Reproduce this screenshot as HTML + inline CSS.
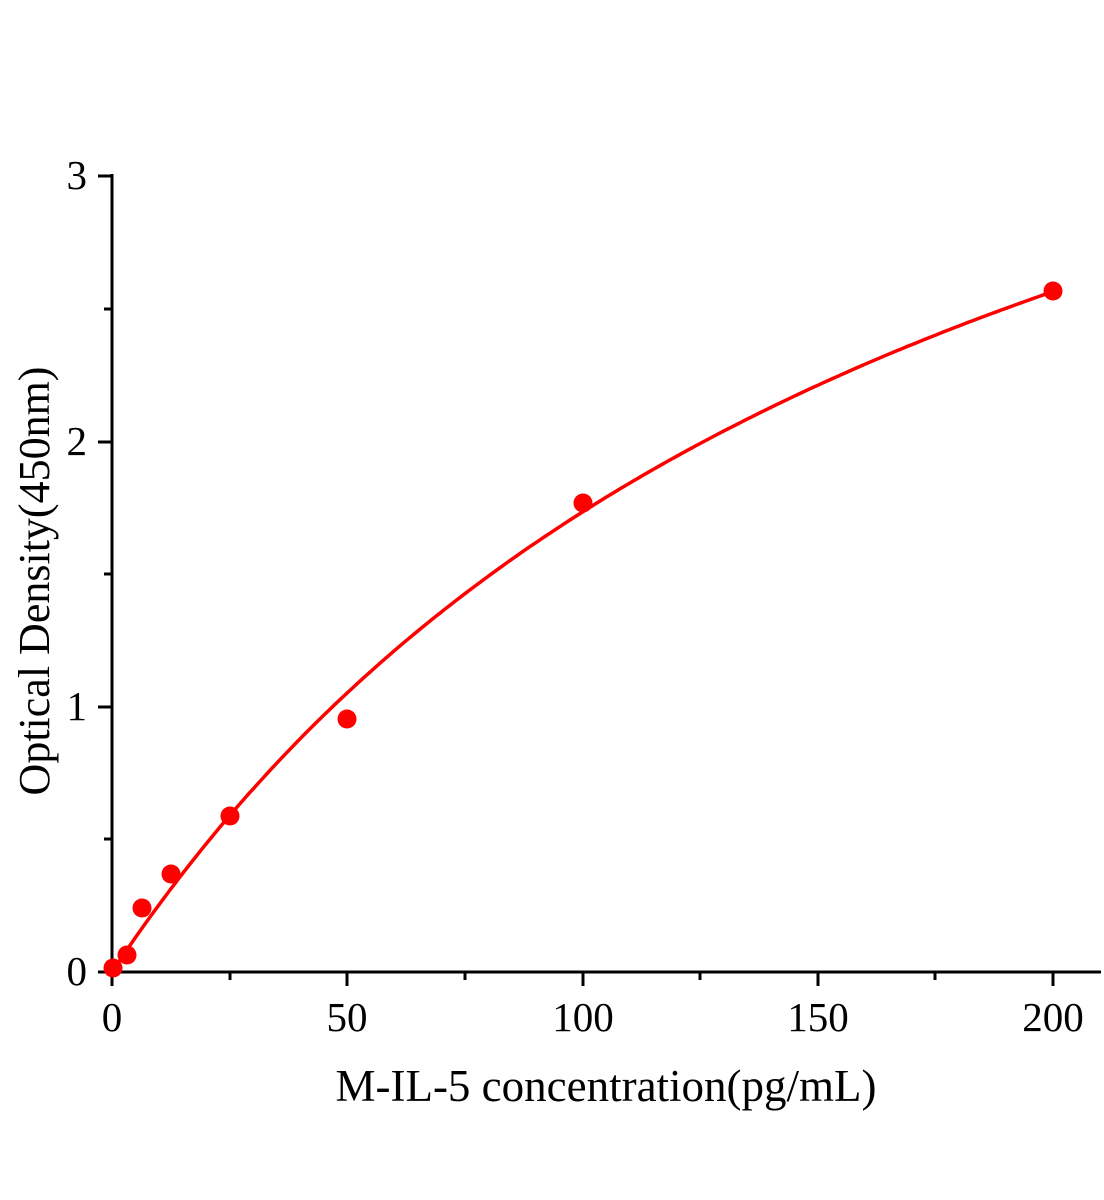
<!DOCTYPE html>
<html><head><style>body{margin:0;background:#fff}svg{display:block}</style></head>
<body>
<svg id="s" width="1104" height="1200" xmlns="http://www.w3.org/2000/svg" font-family="Liberation Serif, serif">
<rect width="1104" height="1200" fill="#fff"/>
<g stroke="#000" stroke-width="3" fill="none">
<line x1="112" y1="174" x2="112" y2="973"/>
<line x1="111" y1="972" x2="1101" y2="972"/>
<line x1="98" y1="972" x2="112" y2="972"/>
<line x1="98" y1="707" x2="112" y2="707"/>
<line x1="98" y1="442" x2="112" y2="442"/>
<line x1="98" y1="176" x2="112" y2="176"/>
<line x1="104" y1="839" x2="112" y2="839"/>
<line x1="104" y1="574" x2="112" y2="574"/>
<line x1="104" y1="309" x2="112" y2="309"/>
<line x1="112" y1="972" x2="112" y2="986"/>
<line x1="347" y1="972" x2="347" y2="986"/>
<line x1="583" y1="972" x2="583" y2="986"/>
<line x1="818" y1="972" x2="818" y2="986"/>
<line x1="1053" y1="972" x2="1053" y2="986"/>
<line x1="230" y1="972" x2="230" y2="980"/>
<line x1="465" y1="972" x2="465" y2="980"/>
<line x1="700" y1="972" x2="700" y2="980"/>
<line x1="935" y1="972" x2="935" y2="980"/>
</g>
<g font-size="41" text-anchor="end">
<text x="87" y="985">0</text><text x="87" y="720">1</text><text x="87" y="455">2</text><text x="87" y="189">3</text>
</g>
<g font-size="41" text-anchor="middle">
<text x="112" y="1031">0</text><text x="347" y="1031">50</text><text x="583" y="1031">100</text><text x="818" y="1031">150</text><text x="1053" y="1031">200</text>
</g>
<text x="606" y="1101" font-size="45" text-anchor="middle">M-IL-5 concentration(pg/mL)</text>
<text transform="translate(49,581) rotate(-90)" font-size="44" text-anchor="middle">Optical Density(450nm)</text>
<path id="c" fill="none" stroke="#f00" stroke-width="3.5"/>
<g fill="#f00">
<circle cx="113" cy="968" r="9.5"/><circle cx="127" cy="955" r="9.5"/><circle cx="142" cy="908" r="9.5"/><circle cx="171" cy="874" r="9.5"/><circle cx="230" cy="816" r="9.5"/><circle cx="347" cy="719" r="9.5"/><circle cx="583" cy="503" r="9.5"/><circle cx="1053" cy="291" r="9.5"/>
</g>
</svg>
<script>
var d="";for(var i=0;i<=200;i++){var x=i,y=4.93*x/(184+x);var px=112+x*4.705,py=972-y*265;d+=(i?"L":"M")+px.toFixed(1)+","+py.toFixed(1);}
document.getElementById("c").setAttribute("d",d);
</script>
</body></html>
